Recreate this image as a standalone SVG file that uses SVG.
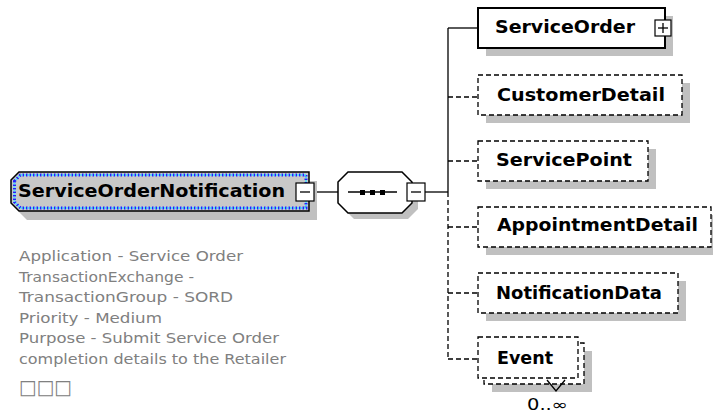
<svg xmlns="http://www.w3.org/2000/svg" width="713" height="419" viewBox="0 0 713 419">
<style>
.shadow{fill:#c0c0c0;stroke:none}
.box{fill:#fff;stroke:#000;stroke-width:2}
.dbox{fill:#fff;stroke:#000;stroke-width:1.3;stroke-dasharray:5 3}
.ln{fill:none;stroke:#000;stroke-width:1.3}
.dln{fill:none;stroke:#000;stroke-width:1.3;stroke-dasharray:5 3}
.btn{fill:#fff;stroke:#000;stroke-width:1.2}
.name{font-family:"DejaVu Sans","Liberation Sans",sans-serif;font-weight:bold;font-size:18px;fill:#000}
.doc{font-family:"DejaVu Sans","Liberation Sans",sans-serif;font-size:14px;fill:#808080}
.occ{font-family:"DejaVu Sans","Liberation Sans",sans-serif;font-size:15px;fill:#000}
</style>
<g id="connectors">
<line class="ln" x1="314" y1="192" x2="338" y2="192"/>
<line class="ln" x1="425" y1="192" x2="448" y2="192"/>
<line class="ln" x1="448" y1="28" x2="448" y2="192"/>
<line class="dln" x1="448" y1="192" x2="448" y2="359"/>
<line class="ln" x1="448" y1="28" x2="478" y2="28"/>
<line class="dln" x1="448" y1="97" x2="478" y2="97"/>
<line class="dln" x1="448" y1="161" x2="478" y2="161"/>
<line class="dln" x1="448" y1="227" x2="478" y2="227"/>
<line class="dln" x1="448" y1="293" x2="478" y2="293"/>
<line class="dln" x1="448" y1="359" x2="478" y2="359"/>
</g>
<g id="ServiceOrderNotification">
<polygon class="shadow" points="19,189 27,181 317,181 317,220 27,220 19,212"/>
<polygon fill="#c8c8c8" stroke="#000" stroke-width="1.5" points="11,180 19,172 309,172 309,211 19,211 11,203"/>
<polygon fill="none" stroke="#2020ff" stroke-width="3" stroke-dasharray="1.5 2" points="14.5,181 20.5,175 306,175 306,208 20.5,208 14.5,202"/>
<polygon fill="none" stroke="#40e0ff" stroke-width="2" stroke-dasharray="1.5 2" stroke-dashoffset="1.7" points="14.5,181 20.5,175 306,175 306,208 20.5,208 14.5,202"/>
<text class="name" x="18" y="197" textLength="267" lengthAdjust="spacingAndGlyphs">ServiceOrderNotification</text>
<rect class="btn" x="296" y="183" width="18" height="18"/>
<line class="ln" x1="300" y1="192" x2="310" y2="192"/>
</g>
<g id="doc">
<text class="doc" x="19" y="261" textLength="224" lengthAdjust="spacingAndGlyphs">Application - Service Order</text>
<text class="doc" x="19" y="282" textLength="175" lengthAdjust="spacingAndGlyphs">TransactionExchange -</text>
<text class="doc" x="19" y="302" textLength="214" lengthAdjust="spacingAndGlyphs">TransactionGroup - SORD</text>
<text class="doc" x="19" y="323" textLength="143" lengthAdjust="spacingAndGlyphs">Priority - Medium</text>
<text class="doc" x="19" y="343" textLength="260" lengthAdjust="spacingAndGlyphs">Purpose - Submit Service Order</text>
<text class="doc" x="19" y="364" textLength="267" lengthAdjust="spacingAndGlyphs">completion details to the Retailer</text>
<text class="doc" x="19" y="394" style="font-size:20px" textLength="53" lengthAdjust="spacingAndGlyphs">□□□</text>
</g>
<g id="sequence">
<polygon class="shadow" points="344,188 354,178 408,178 418,188 418,209 408,219 354,219 344,209"/>
<polygon fill="#fff" stroke="#000" stroke-width="1.5" points="338,182 348,172 402,172 412,182 412,203 402,213 348,213 338,203"/>
<line class="ln" x1="348" y1="192" x2="397" y2="192"/>
<rect x="360" y="190" width="5" height="5" fill="#000"/>
<rect x="370" y="190" width="5" height="5" fill="#000"/>
<rect x="380" y="190" width="5" height="5" fill="#000"/>
<rect class="btn" x="407" y="183" width="18" height="18"/>
<line class="ln" x1="411" y1="192" x2="421" y2="192"/>
</g>
<g id="ServiceOrder">
<rect class="shadow" x="486" y="16" width="187" height="40"/>
<rect class="box" x="478" y="8" width="187" height="40"/>
<text class="name" x="495" y="33" textLength="140" lengthAdjust="spacingAndGlyphs">ServiceOrder</text>
<rect class="btn" x="655" y="20" width="16" height="16"/>
<line class="ln" x1="658" y1="28" x2="668" y2="28"/>
<line class="ln" x1="663" y1="23" x2="663" y2="33"/>
</g>
<g id="CustomerDetail">
<rect class="shadow" x="486" y="83" width="204" height="40"/>
<rect class="dbox" x="478" y="75" width="204" height="40"/>
<text class="name" x="497" y="101" textLength="168" lengthAdjust="spacingAndGlyphs">CustomerDetail</text>
</g>
<g id="ServicePoint">
<rect class="shadow" x="486" y="149" width="170" height="40"/>
<rect class="dbox" x="478" y="141" width="170" height="40"/>
<text class="name" x="496" y="166" textLength="136" lengthAdjust="spacingAndGlyphs">ServicePoint</text>
</g>
<g id="AppointmentDetail">
<rect class="shadow" x="486" y="215" width="233" height="40"/>
<rect class="dbox" x="478" y="207" width="233" height="40"/>
<text class="name" x="497" y="231" textLength="201" lengthAdjust="spacingAndGlyphs">AppointmentDetail</text>
</g>
<g id="NotificationData">
<rect class="shadow" x="486" y="281" width="200" height="40"/>
<rect class="dbox" x="478" y="273" width="200" height="40"/>
<text class="name" x="496" y="299" textLength="166" lengthAdjust="spacingAndGlyphs">NotificationData</text>
</g>
<g id="Event">
<rect class="shadow" x="492" y="351" width="100" height="41"/>
<rect class="dbox" x="484" y="343" width="100" height="41"/>
<rect class="dbox" x="478" y="337" width="100" height="41"/>
<text class="name" x="497" y="364" textLength="56" lengthAdjust="spacingAndGlyphs">Event</text>
<polyline class="ln" points="547,380 556,391 565,380"/>
<text class="occ" x="527" y="410" textLength="41" lengthAdjust="spacingAndGlyphs">0..∞</text>
</g>
</svg>
